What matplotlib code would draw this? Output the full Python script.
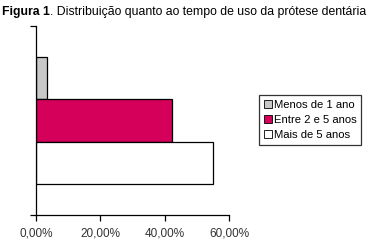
import matplotlib.pyplot as plt
import matplotlib.ticker as mticker

plt.rcParams['font.family'] = ['Liberation Sans', 'DejaVu Sans']

# data
categories = ['Menos de 1 ano', 'Entre 2 e 5 anos', 'Mais de 5 anos']
values = [3.3, 42.2, 55.0]
colors = ['#c8c8c8', '#d4005a', '#ffffff']
xticks = [0, 20, 40, 60]

W, H = 378, 247
fig = plt.figure(figsize=(W / 100, H / 100), dpi=100)
ax = fig.add_axes([36 / W, (H - 215) / H, (229 - 36) / W, (215 - 26) / H])

ypos = [1, 0, -1]
for y, v, c, lab in zip(ypos, values, colors, categories):
    ax.barh(y, v, height=1.0, color=c, edgecolor='black', linewidth=0.9, label=lab)

ax.set_xlim(0, 60)
ax.set_ylim(-2.23, 2.23)
ax.set_xticks(xticks)
ax.xaxis.set_major_formatter(mticker.FuncFormatter(lambda x, p: f"{x:.2f}%".replace('.', ',')))
ax.set_yticks([-2.23, 2.23])
ax.set_yticklabels([])
for s in ['top', 'right']:
    ax.spines[s].set_visible(False)
for s in ['left', 'bottom']:
    ax.spines[s].set_linewidth(0.9)
ax.tick_params(axis='both', length=4, width=0.9, direction='out', labelsize=8.5,
               labelcolor='#333333', pad=5)

leg = fig.legend(loc='upper left', bbox_to_anchor=(259 / W, 1 - 95 / H), fontsize=8.1,
                 frameon=True, fancybox=False, edgecolor='black', handlelength=0.75,
                 handleheight=0.75, handletextpad=0.15, borderpad=0.42, borderaxespad=0,
                 labelspacing=0.45)
leg.get_frame().set_linewidth(0.9)
for h in leg.legend_handles:
    h.set_linewidth(0.6)

t1 = fig.text(2 / W, 1 - 12 / H, 'Figura 1', fontsize=8.8, fontweight='bold', va='center')
fig.canvas.draw()
bb = t1.get_window_extent()
fig.text(bb.x1 / W, 1 - 12 / H, '. Distribuição quanto ao tempo de uso da prótese dentária',
         fontsize=8.8, va='center')

fig.savefig('out.png', dpi=100)
